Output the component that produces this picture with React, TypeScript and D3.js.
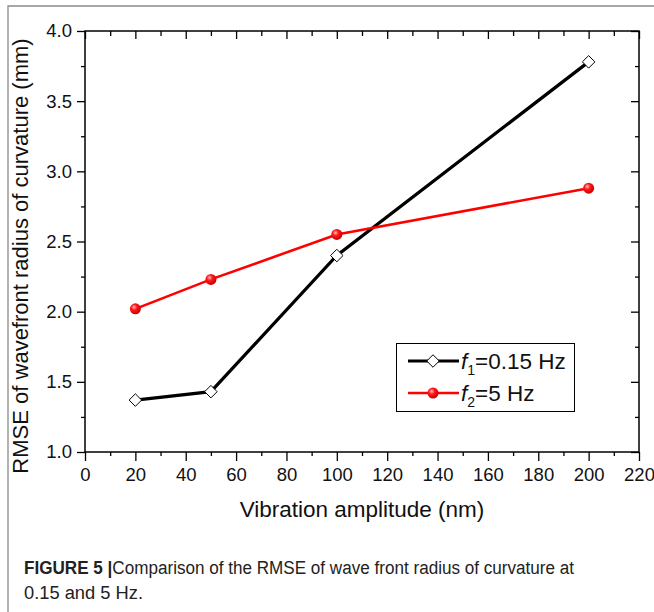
import { useRef, useEffect } from 'react'
import * as d3 from 'd3'

const amplitudes = [20, 50, 100, 200]
const f1Values = [1.37, 1.43, 2.4, 3.78]
const f2Values = [2.02, 2.23, 2.55, 2.88]
const xTicks = [0, 20, 40, 60, 80, 100, 120, 140, 160, 180, 200, 220]
const yTicks = [1.0, 1.5, 2.0, 2.5, 3.0, 3.5, 4.0]

const W = 654
const H = 612
const margin = { left: 85, right: 15, top: 31, bottom: 160 }
const FONT = 'Liberation Sans, Arial, sans-serif'

export default function App() {
  const svgRef = useRef<SVGSVGElement>(null)

  useEffect(() => {
    if (!svgRef.current) return
    const svg = d3.select(svgRef.current)
    svg.selectAll('*').remove()

    const pw = W - margin.left - margin.right
    const ph = H - margin.top - margin.bottom
    const bottom = margin.top + ph
    const right = margin.left + pw

    const x = d3.scaleLinear().domain([0, 220]).range([margin.left, right])
    const y = d3.scaleLinear().domain([1, 4]).range([bottom, margin.top])

    const defs = svg.append('defs')
    const grad = defs
      .append('radialGradient')
      .attr('id', 'ball')
      .attr('cx', '38%')
      .attr('cy', '35%')
      .attr('r', '65%')
    grad.append('stop').attr('offset', '0%').attr('stop-color', '#ffc0c0')
    grad.append('stop').attr('offset', '40%').attr('stop-color', '#ff1a1a')
    grad.append('stop').attr('offset', '100%').attr('stop-color', '#c80000')

    // frame round the figure
    svg
      .append('path')
      .attr('d', `M8,${H} V6 H${W}`)
      .attr('fill', 'none')
      .attr('stroke', '#8a8a8a')
      .attr('stroke-width', 1.3)

    const minorX = d3.range(10, 220, 20)
    const minorY = d3.range(1.25, 4, 0.5)

    // bottom axis
    const gB = svg.append('g').attr('transform', `translate(0,${bottom})`)
      .call(d3.axisBottom(x).tickValues(xTicks).tickSize(9).tickFormat(d3.format('d')))
    gB.selectAll('text').attr('font-size', 18.5).attr('font-family', FONT).attr('fill', '#111').attr('y', 16).attr('dy', '0.71em')
    svg.append('g').attr('transform', `translate(0,${bottom})`)
      .call(d3.axisBottom(x).tickValues(minorX).tickSize(4).tickFormat(() => ''))

    // top axis (ticks inward)
    svg.append('g').attr('transform', `translate(0,${margin.top})`)
      .call(d3.axisBottom(x).tickValues(xTicks).tickSize(8).tickFormat(() => ''))
    svg.append('g').attr('transform', `translate(0,${margin.top})`)
      .call(d3.axisBottom(x).tickValues(minorX).tickSize(5).tickFormat(() => ''))

    // left axis
    const gL = svg.append('g').attr('transform', `translate(${margin.left},0)`)
      .call(d3.axisLeft(y).tickValues(yTicks).tickSize(8).tickFormat(d3.format('.1f')))
    gL.selectAll('text').attr('font-size', 18.5).attr('font-family', FONT).attr('fill', '#111').attr('x', -13)
    svg.append('g').attr('transform', `translate(${margin.left},0)`)
      .call(d3.axisLeft(y).tickValues(minorY).tickSize(4).tickFormat(() => ''))

    // right axis (ticks inward)
    svg.append('g').attr('transform', `translate(${right},0)`)
      .call(d3.axisLeft(y).tickValues(yTicks).tickSize(8).tickFormat(() => ''))
    svg.append('g').attr('transform', `translate(${right},0)`)
      .call(d3.axisLeft(y).tickValues(minorY).tickSize(4).tickFormat(() => ''))

    svg.selectAll('.domain').remove()
    svg.selectAll('.tick line').attr('stroke', '#000').attr('stroke-width', 1.3)
    svg.append('rect')
      .attr('x', margin.left).attr('y', margin.top)
      .attr('width', pw).attr('height', ph)
      .attr('fill', 'none').attr('stroke', '#000').attr('stroke-width', 1.5)

    // axis titles
    svg.append('text')
      .attr('x', (margin.left + right) / 2)
      .attr('y', 517)
      .attr('text-anchor', 'middle')
      .attr('font-family', FONT)
      .attr('font-size', 22.5)
      .attr('fill', '#111')
      .text('Vibration amplitude (nm)')
    svg.append('text')
      .attr('transform', `translate(28,256) rotate(-90)`)
      .attr('text-anchor', 'middle')
      .attr('font-family', FONT)
      .attr('font-size', 22)
      .attr('fill', '#111')
      .text('RMSE of wavefront radius of curvature (mm)')

    const line = d3.line<number>().x((_, i) => x(amplitudes[i])).y((d) => y(d))

    svg.append('path').datum(f1Values).attr('d', line).attr('fill', 'none').attr('stroke', '#000').attr('stroke-width', 3.2)
    svg.append('path').datum(f2Values).attr('d', line).attr('fill', 'none').attr('stroke', '#ff0000').attr('stroke-width', 2.6)

    const diamond = d3.symbol().type(d3.symbolDiamond2).size(100)
    svg.selectAll('.d1').data(f1Values).join('path')
      .attr('transform', (d, i) => `translate(${x(amplitudes[i])},${y(d)})`)
      .attr('d', diamond())
      .attr('fill', '#fff').attr('stroke', '#000').attr('stroke-width', 1)

    svg.selectAll('.c2').data(f2Values).join('circle')
      .attr('cx', (_, i) => x(amplitudes[i])).attr('cy', (d) => y(d)).attr('r', 5.5)
      .attr('fill', 'url(#ball)')

    // legend
    const lg = svg.append('g')
    lg.append('rect').attr('x', 396.5).attr('y', 343.5).attr('width', 178).attr('height', 68)
      .attr('fill', '#fff').attr('stroke', '#000').attr('stroke-width', 1)
    const rows = [
      { y: 361, color: '#000', w: 3.2, sub: '1', rest: '=0.15 Hz', marker: 'diamond' },
      { y: 393, color: '#ff0000', w: 2.6, sub: '2', rest: '=5 Hz', marker: 'circle' },
    ]
    rows.forEach((r) => {
      lg.append('line').attr('x1', 408).attr('x2', 459).attr('y1', r.y).attr('y2', r.y)
        .attr('stroke', r.color).attr('stroke-width', r.w)
      if (r.marker === 'diamond') {
        lg.append('path').attr('transform', `translate(433,${r.y})`).attr('d', diamond())
          .attr('fill', '#fff').attr('stroke', '#000').attr('stroke-width', 1)
      } else {
        lg.append('circle').attr('cx', 433).attr('cy', r.y).attr('r', 5.5).attr('fill', 'url(#ball)')
      }
      const t = lg.append('text').attr('x', 461).attr('y', r.y + 8)
        .attr('font-family', FONT).attr('font-size', 22.5).attr('fill', '#111')
      t.append('tspan').attr('font-style', 'italic').text('f')
      t.append('tspan').attr('font-size', 14).attr('dy', 6).text(r.sub)
      t.append('tspan').attr('dy', -6).text(r.rest)
    })

    // caption
    const CAP = 'Liberation Sans Narrow, Liberation Sans, Arial, sans-serif'
    const cap = svg.append('text').attr('x', 24).attr('y', 574)
      .attr('font-family', CAP).attr('font-size', 18).attr('fill', '#222')
      .attr('textLength', 550).attr('lengthAdjust', 'spacingAndGlyphs')
    cap.append('tspan').attr('font-weight', 'bold').text('FIGURE 5 |')
    cap.append('tspan').text('Comparison of the RMSE of wave front radius of curvature at')
    svg.append('text').attr('x', 24).attr('y', 599)
      .attr('font-family', CAP).attr('font-size', 18).attr('fill', '#222')
      .attr('textLength', 119).attr('lengthAdjust', 'spacingAndGlyphs')
      .text('0.15 and 5 Hz.')
  }, [])

  return (
    <svg ref={svgRef} width={W} height={H} style={{ display: 'block', position: 'absolute', left: 0, top: 0, background: '#fff' }} />
  )
}
